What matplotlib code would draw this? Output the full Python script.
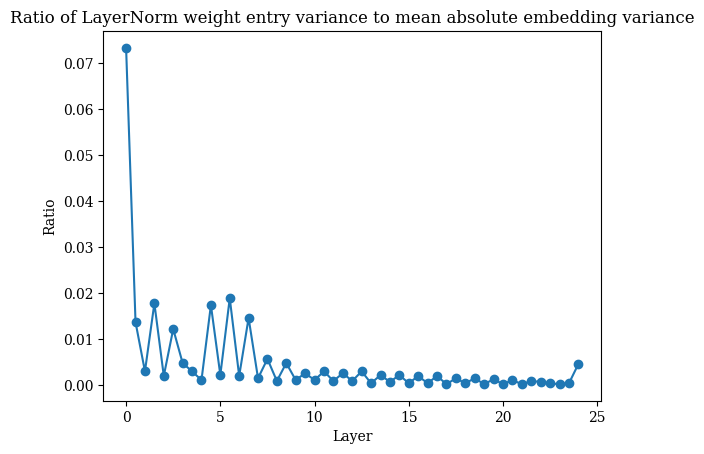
import numpy as np
import matplotlib.pyplot as plt

plt.rcParams['font.family'] = 'DejaVu Serif'

layers = np.arange(0, 24.5, 0.5)
ratios = [0.0733, 0.0137, 0.0030, 0.0178, 0.0020, 0.0122, 0.0048, 0.0030, 0.0011,
          0.0174, 0.0022, 0.0189, 0.0020, 0.0146, 0.0015, 0.0057, 0.0009, 0.0048,
          0.0011, 0.0026, 0.0011, 0.0030, 0.0009, 0.0026, 0.0009, 0.0030, 0.0004,
          0.0022, 0.0007, 0.0022, 0.0004, 0.0020, 0.0004, 0.0020, 0.0002, 0.0015,
          0.0004, 0.0015, 0.0002, 0.0013, 0.0002, 0.0011, 0.0002, 0.0009, 0.0007,
          0.0004, 0.0002, 0.0004, 0.0046]

fig = plt.figure(figsize=(7.04, 4.54), dpi=100)
ax = fig.add_axes([0.147, 0.1167, 0.7067, 0.8143])
ax.plot(layers, ratios, marker='o')
ax.set_xlabel('Layer')
ax.set_ylabel('Ratio')
ax.set_title('Ratio of LayerNorm weight entry variance to mean absolute embedding variance')
fig.savefig('out.png')
